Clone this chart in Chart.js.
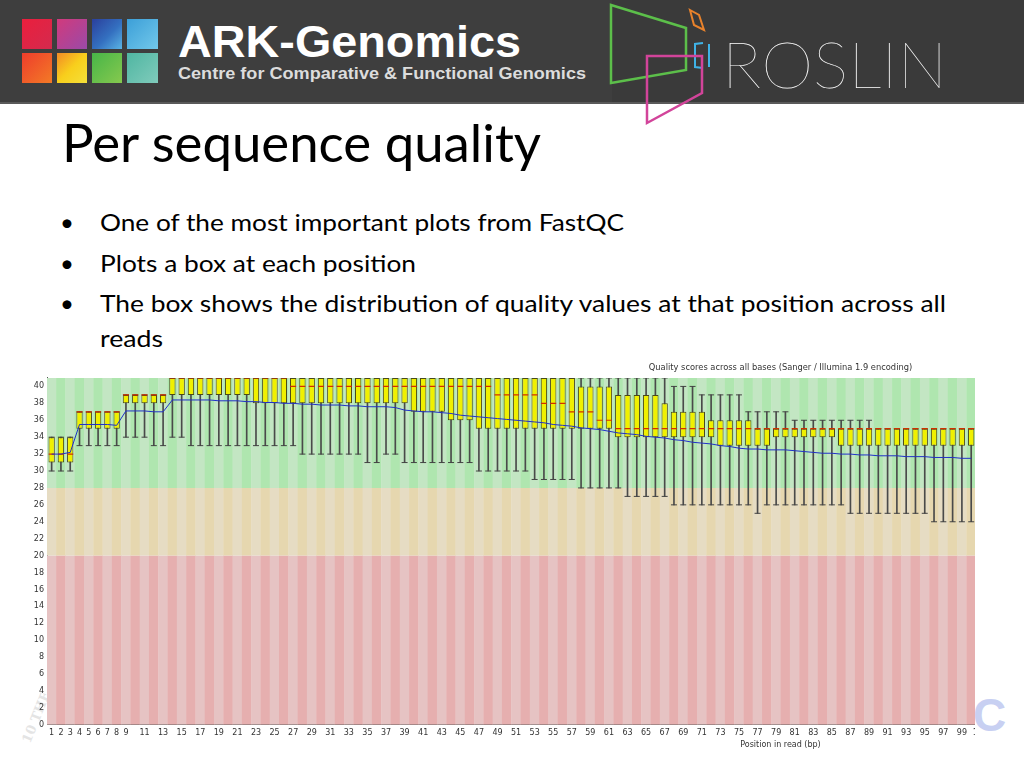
<!DOCTYPE html>
<html>
<head>
<meta charset="utf-8">
<title>Per sequence quality</title>
<script src="https://cdn.jsdelivr.net/npm/chart.js@4.4.0/dist/chart.umd.min.js"></script>
<style>
  html, body { margin: 0; padding: 0; background: #fff; }
  #slide { position: relative; width: 1024px; height: 768px; overflow: hidden; background: #fff; }
  #deco { position: absolute; left: 0; top: 0; }
  #plotClip { position: absolute; left: 20px; top: 358px; width: 955px; height: 396px; overflow: hidden; }
  #plot { display: block; }
</style>
</head>
<body>
<div id="slide">
  <svg id="deco" width="1024" height="768" xmlns="http://www.w3.org/2000/svg">
    <defs>
      <linearGradient id="g1" x1="0" y1="0" x2="1" y2="1"><stop offset="0" stop-color="#ea1f3d"/><stop offset="1" stop-color="#d42a4e"/></linearGradient>
      <linearGradient id="g2" x1="0" y1="0" x2="1" y2="1"><stop offset="0" stop-color="#d13a7c"/><stop offset="1" stop-color="#9a4aa8"/></linearGradient>
      <linearGradient id="g3" x1="0" y1="0" x2="1" y2="1"><stop offset="0" stop-color="#2a3f9c"/><stop offset="0.55" stop-color="#3470c0"/><stop offset="1" stop-color="#5ab4e4"/></linearGradient>
      <linearGradient id="g4" x1="0" y1="0" x2="1" y2="1"><stop offset="0" stop-color="#3c9fd8"/><stop offset="1" stop-color="#72c8ea"/></linearGradient>
      <linearGradient id="g5" x1="0" y1="0" x2="1" y2="1"><stop offset="0" stop-color="#ee3d2c"/><stop offset="1" stop-color="#f37a26"/></linearGradient>
      <linearGradient id="g6" x1="0" y1="0" x2="1" y2="1"><stop offset="0" stop-color="#f28a26"/><stop offset="0.5" stop-color="#f8cf1c"/><stop offset="1" stop-color="#f4e03a"/></linearGradient>
      <linearGradient id="g7" x1="0" y1="0" x2="1" y2="1"><stop offset="0" stop-color="#47b548"/><stop offset="1" stop-color="#86c94e"/></linearGradient>
      <linearGradient id="g8" x1="0" y1="0" x2="1" y2="1"><stop offset="0" stop-color="#4fb6a2"/><stop offset="1" stop-color="#80cbbb"/></linearGradient>
    </defs>
    <!-- header band -->
    <rect x="0" y="0" width="1024" height="103" fill="#3a3a3a"/>
    <rect x="0" y="0" width="612" height="103" fill="#3e3e3e"/>
    <rect x="0" y="102" width="1024" height="2" fill="#5a5a5a"/>
    <!-- ARK squares -->
    <rect x="22" y="19" width="30" height="30" fill="url(#g1)"/>
    <rect x="57" y="19" width="30" height="30" fill="url(#g2)"/>
    <rect x="92" y="19" width="30" height="30" fill="url(#g3)"/>
    <rect x="127" y="19" width="31" height="30" fill="url(#g4)"/>
    <rect x="22" y="53" width="30" height="30" fill="url(#g5)"/>
    <rect x="57" y="53" width="30" height="30" fill="url(#g6)"/>
    <rect x="92" y="53" width="30" height="30" fill="url(#g7)"/>
    <rect x="127" y="53" width="31" height="30" fill="url(#g8)"/>
    <text x="178" y="57" font-family="Liberation Sans, Arial, sans-serif" font-weight="bold" font-size="44" fill="#ffffff" textLength="343" lengthAdjust="spacingAndGlyphs">ARK-Genomics</text>
    <text x="178" y="79" font-family="Liberation Sans, Arial, sans-serif" font-weight="bold" font-size="17" fill="#dcdcdc" textLength="408" lengthAdjust="spacingAndGlyphs">Centre for Comparative &amp; Functional Genomics</text>
    <!-- Roslin logo -->
    <polygon points="611,5 686,28 686,70 611,83" fill="none" stroke="#5cbf4a" stroke-width="2.5"/>
    <polygon points="690,10 699,15 704,30 694,25" fill="none" stroke="#e9822b" stroke-width="2"/>
    <polyline points="703,43 695,44 695,67 703,68" fill="none" stroke="#3fb2e6" stroke-width="2"/>
    <line x1="709" y1="44" x2="709" y2="67" stroke="#3fb2e6" stroke-width="2"/>
    <polygon points="647,56 702,56 702,93 647,123" fill="none" stroke="#d2449a" stroke-width="2.5"/>
    <text x="722" y="88" font-family="Lato, sans-serif" font-weight="100" font-size="64" fill="#ffffff" textLength="225" lengthAdjust="spacingAndGlyphs">ROSLIN</text>
    <!-- title and bullets -->
    <text x="62" y="162" font-family="Lato, sans-serif" font-size="52" fill="#000" textLength="479" lengthAdjust="spacingAndGlyphs">Per sequence quality</text>
    <g font-family="Lato, sans-serif" font-size="24" fill="#000">
      <text x="60" y="231">•</text>
      <text x="100" y="231" textLength="524" lengthAdjust="spacingAndGlyphs">One of the most important plots from FastQC</text>
      <text x="60" y="272">•</text>
      <text x="100" y="272" textLength="316" lengthAdjust="spacingAndGlyphs">Plots a box at each position</text>
      <text x="60" y="312">•</text>
      <text x="100" y="312" textLength="846" lengthAdjust="spacingAndGlyphs">The box shows the distribution of quality values at that position across all</text>
      <text x="100" y="347" textLength="63" lengthAdjust="spacingAndGlyphs">reads</text>
    </g>
    <!-- faint leftovers of the slide template -->
    <text x="0" y="0" transform="translate(30 744) rotate(-68)" font-family="DejaVu Serif, serif" font-weight="bold" font-size="13" fill="#e4e4e4">10 THE</text>
    <text x="973" y="731" font-family="Liberation Sans, Arial, sans-serif" font-weight="bold" font-size="46" fill="#c8d0f2">C</text>
  </svg>
  <div id="plotClip"><canvas id="plot" width="1504" height="396" style="width:1504px;height:396px"></canvas></div>
</div>
<script>
'use strict';
/*-------------------------------------------------------*\
     Data
\*-------------------------------------------------------*/
// one box per base position
var positions = [1, 2, 3, 4, 5, 6, 7, 8, 9, 10, 11, 12, 13, 14, 15, 16, 17, 18, 19, 20,
  21, 22, 23, 24, 25, 26, 27, 28, 29, 30, 31, 32, 33, 34, 35, 36, 37, 38, 39, 40,
  41, 42, 43, 44, 45, 46, 47, 48, 49, 50, 51, 52, 53, 54, 55, 56, 57, 58, 59, 60,
  61, 62, 63, 64, 65, 66, 67, 68, 69, 70, 71, 72, 73, 74, 75, 76, 77, 78, 79, 80,
  81, 82, 83, 84, 85, 86, 87, 88, 89, 90, 91, 92, 93, 94, 95, 96, 97, 98, 99, 100];
// labels under the x axis (101 is cut by the slide edge)
var xTicks = [1, 2, 3, 4, 5, 6, 7, 8, 9, 11, 13, 15, 17, 19, 21, 23, 25, 27, 29, 31,
  33, 35, 37, 39, 41, 43, 45, 47, 49, 51, 53, 55, 57, 59, 61, 63, 65, 67, 69, 71,
  73, 75, 77, 79, 81, 83, 85, 87, 89, 91, 93, 95, 97, 99, 101];
var yTicks = [0, 2, 4, 6, 8, 10, 12, 14, 16, 18, 20, 22, 24, 26, 28, 30, 32, 34, 36, 38, 40];

// 10th percentile (lower whisker)
var lowWhisker = [30, 30, 30, 33, 33, 33, 33, 33, 34, 34, 34, 33, 33, 34, 34, 33, 33, 33, 33, 33,
  33, 33, 33, 33, 33, 33, 33, 32, 32, 32, 32, 32, 32, 32, 31, 31, 32, 32, 31, 31,
  31, 31, 31, 31, 31, 31, 30, 30, 30, 30, 30, 30, 29, 29, 29, 29, 29, 28, 28, 28,
  28, 28, 27, 27, 27, 27, 27, 26, 26, 26, 26, 26, 26, 26, 26, 26, 25, 26, 26, 26,
  26, 26, 26, 26, 26, 26, 25, 25, 25, 25, 25, 25, 25, 25, 25, 24, 24, 24, 24, 24];
// lower quartile
var lowerQuartile = [31, 31, 31, 35, 35, 35, 35, 35, 38, 38, 38, 38, 38, 39, 39, 39, 39, 39, 39, 39,
  39, 39, 38, 38, 38, 38, 38, 38, 38, 38, 38, 38, 38, 38, 38, 38, 38, 38, 38, 37,
  37, 37, 37, 36, 36, 36, 35, 35, 35, 35, 35, 35, 35, 35, 35, 35, 35, 35, 35, 35,
  35, 34, 34, 34, 34, 34, 34, 34, 34, 34, 34, 34, 33, 33, 33, 33, 33, 33, 34, 34,
  34, 34, 34, 34, 34, 33, 33, 33, 33, 33, 33, 33, 33, 33, 33, 33, 33, 33, 33, 33];
var medians = [32, 32, 32, 37, 37, 37, 37, 37, 39, 39, 39, 39, 39, 41, 41, 41, 41, 41, 41, 41,
  41, 41, 41, 41, 41, 41, 40, 40, 40, 40, 40, 40, 40, 40, 40, 40, 40, 40, 40, 40,
  40, 40, 40, 40, 40, 40, 40, 40, 39, 39, 39, 39, 39, 38, 38, 38, 37, 37, 37, 36,
  36, 35, 35, 35, 35, 35, 35, 35, 35, 35, 35, 35, 35, 35, 35, 35, 35, 35, 35, 35,
  35, 35, 35, 35, 35, 35, 35, 35, 35, 35, 35, 35, 35, 35, 35, 35, 35, 35, 35, 35];
// upper quartile
var upperQuartile = [34, 34, 34, 37, 37, 37, 37, 37, 39, 39, 39, 39, 39, 41, 41, 41, 41, 41, 41, 41,
  41, 41, 41, 41, 41, 41, 41, 41, 41, 41, 41, 41, 41, 41, 41, 41, 41, 41, 41, 41,
  41, 41, 41, 41, 41, 41, 41, 41, 41, 41, 41, 41, 41, 41, 41, 41, 41, 40, 40, 40,
  40, 39, 39, 39, 39, 39, 38, 37, 37, 37, 37, 36, 36, 36, 36, 36, 35, 35, 35, 35,
  35, 35, 35, 35, 35, 35, 35, 35, 35, 35, 35, 35, 35, 35, 35, 35, 35, 35, 35, 35];
// 90th percentile (upper whisker)
var highWhisker = [34, 34, 34, 37, 37, 37, 37, 37, 39, 39, 39, 39, 39, 41, 41, 41, 41, 41, 41, 41,
  41, 41, 41, 41, 41, 41, 41, 41, 41, 41, 41, 41, 41, 41, 41, 41, 41, 41, 41, 41,
  41, 41, 41, 41, 41, 41, 41, 41, 41, 41, 41, 41, 41, 41, 41, 41, 41, 41, 41, 41,
  41, 41, 41, 41, 41, 41, 41, 40, 40, 40, 39, 39, 39, 39, 39, 37, 37, 37, 37, 37,
  36, 36, 36, 36, 36, 36, 36, 36, 36, 35, 35, 35, 35, 35, 35, 35, 35, 35, 35, 35];
var means = [32.0, 32.0, 32.2, 35.5, 35.5, 35.5, 35.5, 35.4, 37.1, 37.1, 37.1, 37.0, 37.0, 38.4, 38.4, 38.4, 38.4, 38.4, 38.3, 38.3,
  38.3, 38.2, 38.2, 38.1, 38.1, 38.0, 38.0, 37.9, 37.9, 37.8, 37.8, 37.8, 37.7, 37.7, 37.6, 37.6, 37.6, 37.5, 37.2, 37.1,
  37.0, 37.0, 36.9, 36.8, 36.6, 36.5, 36.4, 36.3, 36.2, 36.1, 36.0, 35.9, 35.8, 35.7, 35.5, 35.4, 35.3, 35.1, 35.0, 34.9,
  34.7, 34.5, 34.4, 34.3, 34.1, 34.0, 33.9, 33.7, 33.6, 33.4, 33.3, 33.2, 33.0, 32.9, 32.7, 32.6, 32.6, 32.5, 32.5, 32.5,
  32.4, 32.3, 32.2, 32.1, 32.1, 32.0, 32.0, 31.9, 31.9, 31.8, 31.8, 31.8, 31.7, 31.7, 31.7, 31.6, 31.6, 31.6, 31.5, 31.5];

// quality zones of the background
var goodZone = [28, 41];
var okZone = [20, 28];
var badZone = [0, 20];

/*-------------------------------------------------------*\
     Helpers
\*-------------------------------------------------------*/
var points = function(values) {
  return positions.map(function(p, i) {
    return {x: p, y: values[i]};
  });
};
var ranges = function(low, high) {
  return positions.map(function(p, i) {
    return {x: p, y: [low[i], high[i]]};
  });
};
var zone = function(bounds) {
  return positions.map(function(p) {
    return {x: p, y: bounds};
  });
};
// alternating stripes, one per position
var stripe = function(first, second) {
  return function(ctx) {
    return ctx.dataIndex % 2 === 0 ? first : second;
  };
};
var fixedTicks = function(list) {
  return function(scale) {
    scale.ticks = list.map(function(v) {
      return {value: v};
    });
  };
};

var zoneOptions = {
  type: 'bar',
  grouped: false,
  barPercentage: 1.04,
  categoryPercentage: 1,
  borderWidth: 0,
  order: 10
};

Chart.defaults.font.family = 'DejaVu Sans';
Chart.defaults.color = '#333';

var chart = new Chart(document.getElementById('plot').getContext('2d'), {
  type: 'bar',
  data: {
    datasets: [
      Object.assign({data: zone(goodZone), backgroundColor: stripe('#c3e6c3', '#afe6af')}, zoneOptions),
      Object.assign({data: zone(okZone), backgroundColor: stripe('#e6dcc3', '#e6d7af')}, zoneOptions),
      Object.assign({data: zone(badZone), backgroundColor: stripe('#e6c3c3', '#e6afaf')}, zoneOptions),
      {
        type: 'bar',
        data: ranges(lowWhisker, highWhisker),
        grouped: false,
        barThickness: 1,
        backgroundColor: '#4a4a4a',
        borderWidth: 0,
        order: 6
      },
      {
        type: 'scatter',
        data: points(lowWhisker),
        pointStyle: 'line',
        pointRadius: 3,
        borderColor: '#444',
        borderWidth: 1,
        order: 5
      },
      {
        type: 'scatter',
        data: points(highWhisker),
        pointStyle: 'line',
        pointRadius: 3,
        borderColor: '#444',
        borderWidth: 1,
        order: 5
      },
      {
        type: 'bar',
        data: ranges(lowerQuartile, upperQuartile),
        grouped: false,
        barPercentage: 0.68,
        categoryPercentage: 1,
        backgroundColor: '#f0f000',
        borderColor: '#4a4a1a',
        borderWidth: 1,
        borderSkipped: false,
        order: 4
      },
      {
        type: 'scatter',
        data: points(medians),
        pointStyle: 'line',
        pointRadius: 3,
        borderColor: '#d03000',
        borderWidth: 1.2,
        order: 3
      },
      {
        type: 'line',
        data: points(means),
        borderColor: '#2030c8',
        borderWidth: 1,
        pointRadius: 0,
        tension: 0,
        order: 1
      }
    ]
  },
  options: {
    responsive: false,
    animation: false,
    events: [],
    layout: {padding: {left: 27, right: 10, top: 0, bottom: 0}},
    plugins: {
      legend: {display: false},
      tooltip: {enabled: false},
      title: {
        display: true,
        text: 'Quality scores across all bases (Sanger / Illumina 1.9 encoding)',
        font: {size: 8.3, weight: 'normal'},
        color: '#333',
        padding: {top: 5, bottom: 5}
      }
    },
    scales: {
      x: {
        type: 'linear',
        min: 0.5,
        max: 158.44,
        offset: false,
        grid: {display: false, drawTicks: false},
        border: {display: true, color: '#555', width: 1},
        afterBuildTicks: fixedTicks(xTicks),
        ticks: {font: {size: 8}, color: '#333', autoSkip: false, maxRotation: 0, padding: 3},
        title: {display: true, text: 'Position in read (bp)', font: {size: 8}, color: '#333', padding: {top: 0, bottom: 4}}
      },
      y: {
        type: 'linear',
        min: 0,
        max: 41,
        grid: {display: false, drawTicks: false},
        border: {display: true, color: '#555', width: 1},
        afterBuildTicks: fixedTicks(yTicks),
        afterFit: function(scale) {
          scale.width = 0;
        },
        // mirrored so the labels are not clipped to the zero-width axis box,
        // then pulled back to the left of the axis line
        ticks: {font: {size: 8}, color: '#333', mirror: true, crossAlign: 'far', padding: -13.2}
      }
    }
  }
});
</script>
</body>
</html>
